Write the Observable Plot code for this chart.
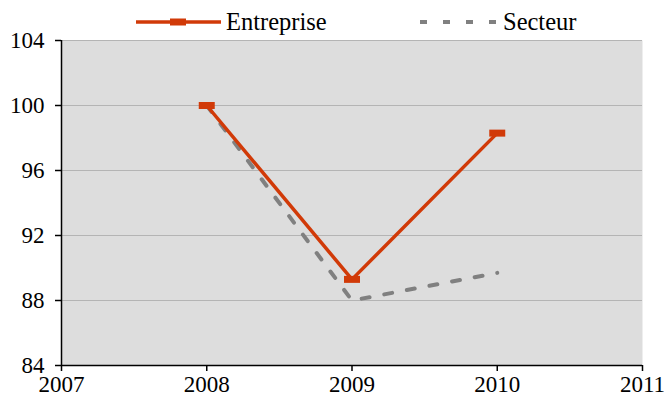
<!DOCTYPE html>
<html>
<head>
<meta charset="utf-8">
<script src="https://cdn.jsdelivr.net/npm/d3@7"></script>
<script src="https://cdn.jsdelivr.net/npm/@observablehq/plot@0.6"></script>
<style>
  html, body { margin: 0; padding: 0; background: #fff; }
  #wrap { position: relative; width: 664px; height: 405px; font-family: 'Liberation Serif', 'DejaVu Serif', serif; }
  #legend { position: absolute; top: 8px; left: 0; width: 664px; height: 28px; font-size: 24.5px; color: #000; font-family: 'Liberation Serif', 'DejaVu Serif', serif; }
  .item { position: absolute; top: 0; display: flex; align-items: center; height: 28px; white-space: nowrap; }
  .item svg { display: block; }
  .item span { margin-left: 5px; }
  #chart svg text { font-family: 'Liberation Serif', 'DejaVu Serif', serif; }
</style>
</head>
<body>
<div id="wrap">
  <div id="chart"></div>
  <div id="legend"></div>
</div>
<script>
const years = [2008, 2009, 2010];
const entreprise = [100, 89.3, 98.3];
const secteur = [100, 88.0, 89.7];
const seriesNames = ["Entreprise", "Secteur"];
const xTicks = [2007, 2008, 2009, 2010, 2011];
const yTicks = [84, 88, 92, 96, 100, 104];

const colE = "#d13a08";
const colS = "#808080";

const dataE = years.map((y, i) => ({year: y, value: entreprise[i]}));
const dataS = years.map((y, i) => ({year: y, value: secteur[i]}));

const rectSymbol = {
  draw(context) {
    context.moveTo(-8, -3.5);
    context.lineTo(8, -3.5);
    context.lineTo(8, 3.5);
    context.lineTo(-8, 3.5);
    context.closePath();
  }
};

const chart = Plot.plot({
  width: 664,
  height: 405,
  marginLeft: 61,
  marginRight: 22,
  marginTop: 40,
  marginBottom: 40,
  style: {fontFamily: "Liberation Serif, DejaVu Serif, serif", fontSize: "23px", color: "#000", background: "transparent", overflow: "visible"},
  x: {domain: [2007, 2011], ticks: xTicks, tickFormat: d => String(d), label: null},
  y: {domain: [84, 104], ticks: yTicks, label: null},
  marks: [
    Plot.frame({fill: "#dddddd", stroke: null}),
    Plot.gridY(yTicks, {stroke: "#b4b4b4", strokeOpacity: 1, strokeWidth: 1}),
    Plot.ruleY([84], {stroke: "#000", strokeWidth: 1.5}),
    Plot.ruleX([2007], {stroke: "#000", strokeWidth: 1.5}),
    Plot.axisX({ticks: xTicks, tickFormat: d => String(d), tickSize: 6, tickPadding: 4, stroke: "#000", strokeWidth: 1.5, label: null, fontSize: 23}),
    Plot.axisY({ticks: yTicks, tickSize: 6, tickPadding: 11, stroke: "#000", strokeWidth: 1.5, label: null, fontSize: 23}),
    Plot.line(dataS, {x: "year", y: "value", stroke: colS, strokeWidth: 4, strokeDasharray: "8,15", strokeLinejoin: "miter"}),
    Plot.line(dataE, {x: "year", y: "value", stroke: colE, strokeWidth: 3.5, strokeLinejoin: "miter"}),
    Plot.dot(dataE, {x: "year", y: "value", symbol: rectSymbol, fill: colE, stroke: null, r: 5})
  ]
});
document.getElementById("chart").appendChild(chart);

// Legend
const legend = document.getElementById("legend");
function addItem(name, left, swatch) {
  const d = document.createElement("div");
  d.className = "item";
  d.style.left = left + "px";
  d.innerHTML = swatch + "<span>" + name + "</span>";
  legend.appendChild(d);
}
addItem(seriesNames[0], 136,
  `<svg width="85" height="14"><line x1="0" y1="7" x2="85" y2="7" stroke="${colE}" stroke-width="3.5"/><rect x="34" y="3.5" width="16" height="7" fill="${colE}"/></svg>`);
addItem(seriesNames[1], 420,
  `<svg width="78" height="14"><line x1="0" y1="7" x2="78" y2="7" stroke="${colS}" stroke-width="4" stroke-dasharray="7,16"/></svg>`);
</script>
</body>
</html>
